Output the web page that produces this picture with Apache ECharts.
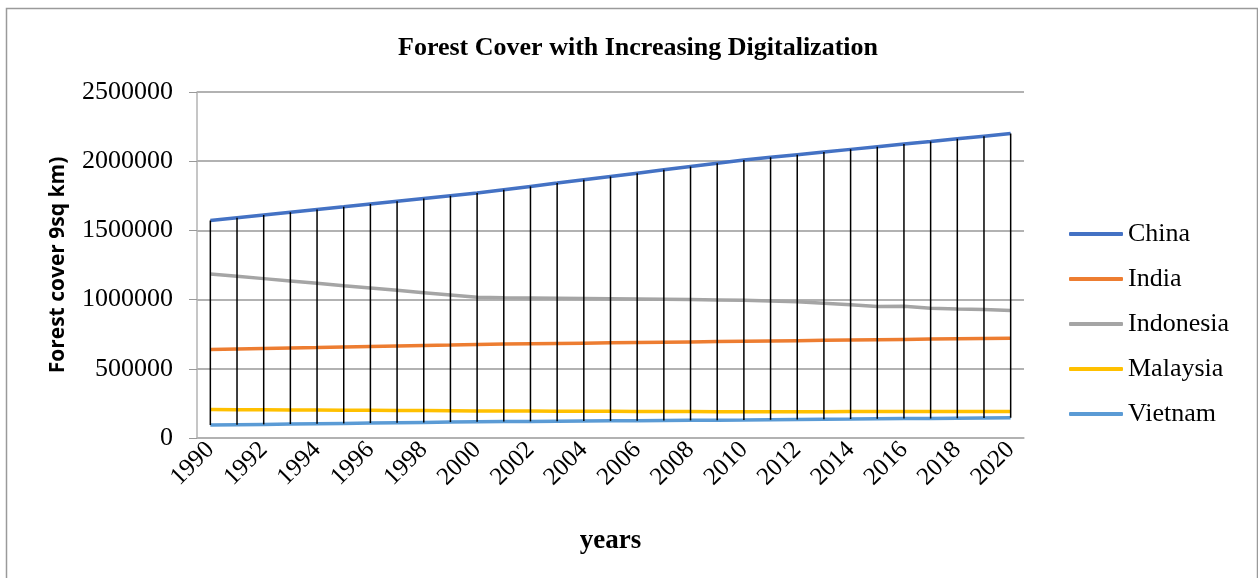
<!DOCTYPE html>
<html>
<head>
<meta charset="utf-8">
<style>
  html, body { margin: 0; padding: 0; background: #fff; }
  #chart { width: 1258px; height: 578px; }
</style>
<script src="https://cdn.jsdelivr.net/npm/echarts@6/dist/echarts.min.js"></script>
</head>
<body>
<div id="chart"></div>
<script>
const years = [];
for (let y = 1990; y <= 2020; y++) years.push(String(y));

const china = [1571400, 1591300, 1611100, 1631000, 1650900, 1670700, 1690600, 1710500, 1730300, 1750200,
  1770000, 1794000, 1817900, 1841800, 1865800, 1889700, 1913600, 1937600, 1961500, 1985400,
  2009400, 2028400, 2047400, 2066500, 2085500, 2104500, 2123600, 2142600, 2161700, 2180700, 2199800];
const india = [639400, 643000, 646700, 650400, 654000, 657700, 661400, 665000, 668700, 672300,
  676000, 678300, 680600, 682900, 685200, 687500, 689700, 692000, 694300, 696600,
  698900, 701200, 703400, 705700, 708000, 710300, 712500, 714800, 717100, 719300, 721600];
const indonesia = [1185400, 1168500, 1151600, 1134700, 1117800, 1100800, 1083900, 1067000, 1050100, 1033200,
  1016300, 1014000, 1012000, 1010000, 1008000, 1006000, 1004000, 1002000, 1000000, 998000,
  996000, 990000, 984000, 973000, 962000, 950000, 952000, 938000, 932000, 928000, 921300];
const malaysia = [205600, 204600, 203600, 202700, 201700, 200700, 199700, 198700, 197800, 196800,
  195800, 195200, 194600, 194000, 193400, 192800, 192200, 191600, 191000, 190400,
  189800, 189700, 190000, 190300, 190600, 190900, 191200, 191000, 191100, 191100, 191100];
const vietnam = [93600, 96000, 98400, 100800, 103200, 105600, 108000, 110400, 112800, 115200,
  117600, 118900, 120100, 121300, 122600, 123800, 125000, 126300, 127500, 128700,
  130000, 131600, 133300, 135000, 136600, 138300, 140000, 141600, 143300, 144900, 146400];

const names = ["China", "India", "Indonesia", "Malaysia", "Vietnam"];
const colors = ["#4472C4", "#ED7D31", "#A5A5A5", "#FFC000", "#5B9BD5"];
const values = [china, india, indonesia, malaysia, vietnam];

// high-low lines: from the highest to the lowest series at each year
const highLow = years.map((y, i) => {
  const col = values.map(v => v[i]);
  return [i, Math.max(...col), Math.min(...col)];
});

function renderHighLow(params, api) {
  const top = api.coord([api.value(0), api.value(1)]);
  const bottom = api.coord([api.value(0), api.value(2)]);
  return {
    type: "line",
    shape: { x1: top[0], y1: top[1], x2: bottom[0], y2: bottom[1] },
    style: { stroke: "#000", lineWidth: 1.5 },
  };
}

const serif = "Liberation Serif";
const chart = echarts.init(document.getElementById("chart"));

const lineSeries = names.map((name, k) => ({
  name: name,
  type: "line",
  data: values[k],
  symbol: "none",
  color: colors[k],
  lineStyle: { width: 3.5, color: colors[k] },
  z: 2,
}));

chart.setOption({
  animation: false,
  title: {
    text: "Forest Cover with Increasing Digitalization",
    top: 30,
    left: 633,
    textAlign: "center",
    textStyle: { fontFamily: serif, fontWeight: "bold", fontSize: 26, color: "#000" },
  },
  graphic: [
    {
      type: "rect",
      shape: { x: 6.5, y: 8.5, width: 1251, height: 580 },
      style: { fill: "none", stroke: "#9a9a9a", lineWidth: 1.5 },
      silent: true,
    },
  ],
  legend: {
    orient: "vertical",
    left: 1069,
    top: 221,
    padding: 0,
    itemWidth: 54,
    itemHeight: 4,
    itemGap: 19,
    icon: "roundRect",
    data: names,
    textStyle: { fontFamily: serif, fontSize: 26, lineHeight: 26, color: "#000" },
  },
  grid: { left: 197, right: 234, top: 92, bottom: 140, containLabel: false },
  xAxis: {
    type: "category",
    data: years,
    boundaryGap: true,
    name: "years",
    nameLocation: "middle",
    nameGap: 90,
    nameTextStyle: { fontFamily: serif, fontWeight: "bold", fontSize: 27, color: "#000" },
    axisLine: { lineStyle: { color: "#b3b3b3", width: 1.5 } },
    axisTick: { show: false },
    axisLabel: {
      interval: 1,
      rotate: 45,
      margin: 8,
      fontFamily: serif,
      fontSize: 25,
      color: "#000",
    },
  },
  yAxis: {
    type: "value",
    min: 0,
    max: 2500000,
    interval: 500000,
    name: "Forest cover 9sq km)",
    nameLocation: "middle",
    nameGap: 128,
    nameTextStyle: { fontFamily: "Open Sans", fontWeight: "bold", fontSize: 21, color: "#000" },
    axisLine: { show: true, lineStyle: { color: "#b3b3b3", width: 1.5 } },
    axisTick: { show: true, length: 8, lineStyle: { color: "#999" } },
    axisLabel: { fontFamily: serif, fontSize: 26, color: "#000", margin: 24, formatter: v => String(v) },
    splitLine: { lineStyle: { color: "#999", width: 1.5 } },
  },
  series: [
    ...lineSeries,
    {
      type: "custom",
      name: "highlow",
      renderItem: renderHighLow,
      data: highLow,
      encode: { x: 0, y: [1, 2] },
      z: 3,
      silent: true,
    },
  ],
});
</script>
</body>
</html>
